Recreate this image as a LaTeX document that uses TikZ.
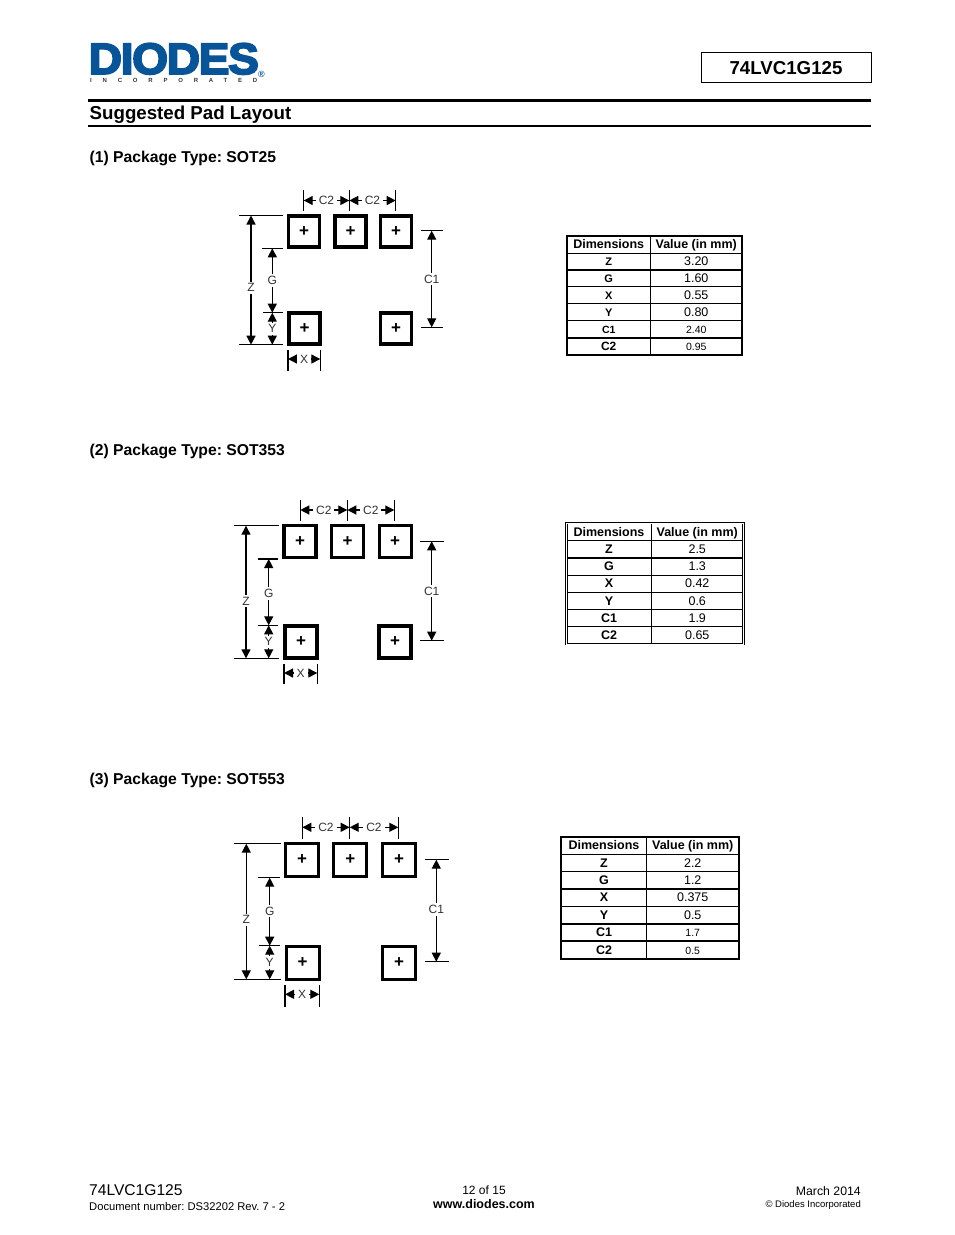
\documentclass[tikz,border=0pt]{standalone}
\usepackage{fontspec}
\setmainfont{Liberation Sans}
\newfontfamily\logofont[FakeBold=4,LetterSpace=-3]{Liberation Sans Bold}
\newfontfamily\logosub[LetterSpace=180]{Liberation Sans Bold}
\usetikzlibrary{arrows.meta}
\definecolor{diodesblue}{RGB}{8,84,150}
\newcommand{\fsz}[1]{\fontsize{#1}{#1}\selectfont}
\newcommand{\padmark}{\raisebox{-2pt}{\bfseries +}}
\frenchspacing
\tikzset{
  padbox/.style={draw, line width=3.3pt, minimum size=31pt, inner sep=0pt, font=\fsz{17}},
  tickline/.style={line width=1.3pt},
  dimline/.style={{Triangle[length=9pt,width=9pt]}-{Triangle[length=9pt,width=9pt]}, line width=1.3pt},
  dimlabel/.style={fill=white, inner xsep=3pt, inner ysep=2pt, font=\fsz{12}, text=black!80},
  dimcell/.style={draw, line width=0.8pt, minimum height=17pt, minimum width=84pt, inner sep=0pt, text height=10pt, text depth=1.5pt, font=\fsz{12.5}\bfseries},
  valcell/.style={draw, line width=0.8pt, minimum height=17pt, minimum width=92pt, inner sep=0pt, text height=10pt, text depth=1.5pt, font=\fsz{12.5}},
  tableframe/.style={line width=2pt},
  tabledouble/.style={double, line width=0.8pt, double distance=1pt},
  tablerule/.style={line width=2pt},
  heading/.style={anchor=base west, inner sep=0pt, font=\fsz{15.7}\bfseries},
  footnote/.style={inner sep=0pt, font=\fsz{12}},
}
\begin{document}
\begin{tikzpicture}[x=1pt, y=-1pt]
  \useasboundingbox (0,0) rectangle (954,1235);
  % page header
  \node[anchor=base west, inner sep=0pt, text=diodesblue, xscale=1.05, font=\logofont\fsz{44}] (logo) at (88.5,74) {DIODES};
  \node[anchor=base west, inner sep=0pt, text=black!80, font=\logosub\fsz{6}] (inc) at (90,82.5) {INCORPORATED};
  \node[anchor=center, inner sep=0pt, text=diodesblue, font=\fsz{9}\bfseries] (reg) at (261.5,74) {®};
  \node[draw, line width=1pt, minimum width=170pt, minimum height=30pt, inner sep=0pt, text height=15pt, font=\fsz{18.7}\bfseries] (part) at (786,67.5) {74LVC1G125};
  \coordinate (ruleA) at (88,100);
  \coordinate (ruleB) at (871,100);
  \coordinate (ruleC) at (88,126);
  \coordinate (ruleD) at (871,126);
  \draw[line width=3pt] (ruleA) -- (ruleB);
  \draw[line width=1.6pt] (ruleC) -- (ruleD);
  \node[heading, font=\fsz{18.7}\bfseries] (title) at (89.5,119) {Suggested Pad Layout};

  % SOT25
  \node[heading] (head1) at (89.5,162) {(1) Package Type: SOT25};
  \node[padbox] (p1a) at (304,231.5) {\padmark};
  \node[padbox] (p1b) at (350.5,231.5) {\padmark};
  \node[padbox] (p1c) at (396,231.5) {\padmark};
  \node[padbox] (p1d) at (304.5,328.5) {\padmark};
  \node[padbox] (p1e) at (396,328.5) {\padmark};
  \coordinate (z1t) at (251,215.5);
  \coordinate (z1b) at (251,344.7);
  \coordinate (g1t) at (272.3,248.3);
  \coordinate (g1b) at (272.3,312.7);
  \coordinate (c1t) at (431.7,230.7);
  \coordinate (c1b) at (431.7,327.3);
  \coordinate (s1a) at (303.7,200.5);
  \coordinate (s1b) at (349.3,200.5);
  \coordinate (s1c) at (395.7,200.5);
  \coordinate (x1a) at (288,359);
  \coordinate (x1b) at (320.3,359);
  \draw[tickline] (z1t) ++(-12,0) -- ++(44,0);
  \draw[tickline] (z1b) ++(-12,0) -- ++(44,0);
  \draw[tickline] (g1t) ++(-10,0) -- ++(21,0);
  \draw[tickline] (g1b) ++(-9,0) -- ++(20,0);
  \draw[tickline] (c1t) ++(-10.5,0) -- ++(22,0);
  \draw[tickline] (c1b) ++(-10.5,0) -- ++(22,0);
  \foreach \tick in {s1a,s1b,s1c} \draw[tickline] (\tick) ++(0,-10.5) -- ++(0,20.5);
  \foreach \tick in {x1a,x1b} \draw[tickline] (\tick) ++(0,-9) -- ++(0,20.5);
  \draw[dimline] (z1t) -- node[dimlabel, pos=.56] (lz1) {Z} (z1b);
  \draw[dimline] (g1t) -- node[dimlabel] (lg1) {G} (g1b);
  \draw[dimline] (g1b) -- node[dimlabel] (ly1) {Y} (g1b |- z1b);
  \draw[dimline] (c1t) -- node[dimlabel] (lc1) {C1} (c1b);
  \draw[dimline] (s1a) -- node[dimlabel] (ls1) {C2} (s1b);
  \draw[dimline] (s1b) -- node[dimlabel] (ls2) {C2} (s1c);
  \draw[dimline] (x1a) -- node[dimlabel] (lx1) {X} (x1b);
  \foreach \dname/\dval [count=\row from 0] in {{\fsz{12.5}Dimensions}/{\bfseries Value (in mm)},{\fsz{11}Z}/3.20,{\fsz{11}G}/1.60,{\fsz{11}X}/0.55,{\fsz{11}Y}/0.80,{\fsz{10.5}C1}/{\fsz{10.5}2.40},{\fsz{12}C2}/{\fsz{10.5}0.95}} {
    \node[dimcell, minimum width=83.5pt] (t1d\row) at (608.75,{244.5+16.9*\row}) {\dname};
    \node[valcell, minimum width=91.5pt] (t1v\row) at (696.25,{244.5+16.9*\row}) {\dval};
  }
  \draw[tablerule] (t1d5.south west) -- (t1v5.south east);
  \draw[tableframe] (t1d0.north west) rectangle (t1v6.south east);

  % SOT353
  \node[heading] (head2) at (89.5,455) {(2) Package Type: SOT353};
  \node[padbox, minimum size=32pt] (p2a) at (300,541.7) {\padmark};
  \node[padbox, minimum size=32pt] (p2b) at (347.7,541.7) {\padmark};
  \node[padbox, minimum size=32pt] (p2c) at (395.2,541.7) {\padmark};
  \node[padbox, minimum size=32pt] (p2d) at (301,642) {\padmark};
  \node[padbox, minimum size=32pt] (p2e) at (395,642) {\padmark};
  \coordinate (z2t) at (246,525.7);
  \coordinate (z2b) at (246,658.3);
  \coordinate (g2t) at (268.7,559);
  \coordinate (g2b) at (268.7,625.3);
  \coordinate (c2t) at (431.7,541.3);
  \coordinate (c2b) at (431.7,640.7);
  \coordinate (s2a) at (300.3,510);
  \coordinate (s2b) at (347.3,510);
  \coordinate (s2c) at (394.3,510);
  \coordinate (x2a) at (284,673);
  \coordinate (x2b) at (317.3,673);
  \draw[tickline] (z2t) ++(-11.7,0) -- ++(45,0);
  \draw[tickline] (z2b) ++(-11.7,0) -- ++(45,0);
  \draw[tickline] (g2t) ++(-10.4,0) -- ++(20,0);
  \draw[tickline] (g2b) ++(-10.4,0) -- ++(20,0);
  \draw[tickline] (c2t) ++(-11.7,0) -- ++(24,0);
  \draw[tickline] (c2b) ++(-11.7,0) -- ++(24,0);
  \foreach \tick in {s2a,s2b,s2c} \draw[tickline] (\tick) ++(0,-10) -- ++(0,20.7);
  \foreach \tick in {x2a,x2b} \draw[tickline] (\tick) ++(0,-9) -- ++(0,20.3);
  \draw[dimline] (z2t) -- node[dimlabel, pos=.57] (lz2) {Z} (z2b);
  \draw[dimline] (g2t) -- node[dimlabel, pos=.52] (lg2) {G} (g2b);
  \draw[dimline] (g2b) -- node[dimlabel] (ly2) {Y} (g2b |- z2b);
  \draw[dimline] (c2t) -- node[dimlabel] (lc2) {C1} (c2b);
  \draw[dimline] (s2a) -- node[dimlabel] (ls3) {C2} (s2b);
  \draw[dimline] (s2b) -- node[dimlabel] (ls4) {C2} (s2c);
  \draw[dimline] (x2a) -- node[dimlabel] (lx2) {X} (x2b);
  \foreach \dname/\dval [count=\row from 0] in {Dimensions/{\bfseries Value (in mm)},Z/2.5,G/1.3,X/0.42,Y/0.6,C1/1.9,C2/0.65} {
    \node[dimcell, minimum width=84.5pt] (t2d\row) at (609,{532+17.2*\row}) {\dname};
    \node[valcell, minimum width=92pt] (t2v\row) at (697.25,{532+17.2*\row}) {\dval};
  }
  \draw[tabledouble] (t2d0.north west) rectangle (t2v6.south east);

  % SOT553
  \node[heading] (head3) at (89.5,784) {(3) Package Type: SOT553};
  \node[padbox, minimum size=33pt] (p3a) at (302,860) {\padmark};
  \node[padbox, minimum size=33pt] (p3b) at (350.3,860) {\padmark};
  \node[padbox, minimum size=33pt] (p3c) at (399,860) {\padmark};
  \node[padbox, minimum size=33pt] (p3d) at (302.7,962.7) {\padmark};
  \node[padbox, minimum size=33pt] (p3e) at (399,962.7) {\padmark};
  \coordinate (z3t) at (246.3,843.7);
  \coordinate (z3b) at (246.3,979.3);
  \coordinate (g3t) at (269.7,877.7);
  \coordinate (g3b) at (269.7,945.7);
  \coordinate (c3t) at (436.3,859.7);
  \coordinate (c3b) at (436.3,961.7);
  \coordinate (s3a) at (302.3,827.3);
  \coordinate (s3b) at (349.7,827.3);
  \coordinate (s3c) at (398.3,827.3);
  \coordinate (x3a) at (285,994.3);
  \coordinate (x3b) at (319.3,994.3);
  \draw[tickline] (z3t) ++(-12,0) -- ++(46.4,0);
  \draw[tickline] (z3b) ++(-12,0) -- ++(46.4,0);
  \draw[tickline] (g3t) ++(-11.4,0) -- ++(21.4,0);
  \draw[tickline] (g3b) ++(-10.4,0) -- ++(20.4,0);
  \draw[tickline] (c3t) ++(-11.3,0) -- ++(24,0);
  \draw[tickline] (c3b) ++(-11.3,0) -- ++(24,0);
  \foreach \tick in {s3a,s3b,s3c} \draw[tickline] (\tick) ++(0,-10) -- ++(0,21.4);
  \foreach \tick in {x3a,x3b} \draw[tickline] (\tick) ++(0,-9.3) -- ++(0,21.7);
  \draw[dimline] (z3t) -- node[dimlabel, pos=.56] (lz3) {Z} (z3b);
  \draw[dimline] (g3t) -- node[dimlabel, pos=.49] (lg3) {G} (g3b);
  \draw[dimline] (g3b) -- node[dimlabel] (ly3) {Y} (g3b |- z3b);
  \draw[dimline] (c3t) -- node[dimlabel, pos=.49] (lc3) {C1} (c3b);
  \draw[dimline] (s3a) -- node[dimlabel] (ls5) {C2} (s3b);
  \draw[dimline] (s3b) -- node[dimlabel] (ls6) {C2} (s3c);
  \draw[dimline] (x3a) -- node[dimlabel] (lx3) {X} (x3b);
  \foreach \dname/\dval [count=\row from 0] in {Dimensions/{\bfseries Value (in mm)},Z/2.2,G/1.2,X/0.375,Y/0.5,C1/{\fsz{10.5}1.7},C2/{\fsz{10.5}0.5}} {
    \node[dimcell, minimum width=85pt] (t3d\row) at (604,{845.5+17.4*\row}) {\dname};
    \node[valcell, minimum width=92.5pt] (t3v\row) at (692.75,{845.5+17.4*\row}) {\dval};
  }
  \draw[tablerule] (t3d4.south west) -- (t3v4.south east);
  \draw[tablerule] (t3d5.south west) -- (t3v5.south east);
  \draw[tableframe] (t3d0.north west) rectangle (t3v6.south east);

  % page footer
  \node[footnote, anchor=base west, font=\fsz{15.6}] (foot1) at (89,1195.5) {74LVC1G125};
  \node[footnote, anchor=base west, font=\fsz{11.2}] (foot2) at (89,1210) {Document number: DS32202 Rev. 7 - 2};
  \node[footnote, anchor=base] (foot3) at (484,1194) {12 of 15};
  \node[footnote, anchor=base, font=\fsz{12.5}\bfseries] (foot4) at (484,1208) {www.diodes.com};
  \node[footnote, anchor=base east, font=\fsz{12.3}] (foot5) at (861,1195) {March 2014};
  \node[footnote, anchor=base east, font=\fsz{9.5}] (foot6) at (861,1207) {© Diodes Incorporated};
\end{tikzpicture}
\end{document}
